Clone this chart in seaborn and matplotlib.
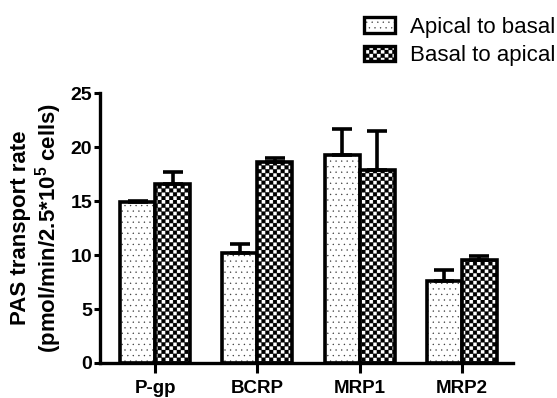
import warnings
import numpy as np
import pandas as pd
import matplotlib
matplotlib.use("Agg")
import matplotlib.pyplot as plt
import matplotlib.hatch as mhatch
from matplotlib.path import Path
from matplotlib.patches import Patch
from matplotlib.colors import to_rgba
import seaborn as sns

warnings.filterwarnings("ignore")

# ----------------------------------------------------------------------
# data
# ----------------------------------------------------------------------
transporters = ["P-gp", "BCRP", "MRP1", "MRP2"]
directions = ["Apical to basal", "Basal to apical"]
apical_to_basal = [14.95, 10.15, 19.25, 7.6]
apical_to_basal_err = [0.1, 0.9, 2.4, 1.0]
basal_to_apical = [16.6, 18.6, 17.9, 9.5]
basal_to_apical_err = [1.1, 0.4, 3.6, 0.4]
y_ticks = [0, 5, 10, 15, 20, 25]


# checkerboard hatch (matplotlib has none), used with hatch="#"
class CheckerHatch(mhatch.HatchPatternBase):
    def __init__(self, hatch, density):
        self.n = 13 if "#" in hatch else 0
        self.num_vertices = self.n * self.n * 2 * 5

    def set_vertices_and_codes(self, vertices, codes):
        s = 1.0 / self.n
        h = s / 2
        sq = np.array([[0, 0], [h, 0], [h, h], [0, h], [0, 0]], dtype=float)
        parts = []
        for i in range(self.n):
            for j in range(self.n):
                parts.append(sq + [i * s, j * s])
                parts.append(sq + [i * s + h, j * s + h])
        vertices[:] = np.concatenate(parts)
        codes[:] = np.tile([Path.MOVETO, Path.LINETO, Path.LINETO,
                            Path.LINETO, Path.CLOSEPOLY], len(parts))


mhatch._hatch_types.append(CheckerHatch)

sns.set_style("ticks")
plt.rcParams["font.family"] = ["Liberation Sans", "DejaVu Sans"]
plt.rcParams["mathtext.fontset"] = "custom"
plt.rcParams["mathtext.bf"] = "Liberation Sans:bold"
plt.rcParams["mathtext.rm"] = "Liberation Sans"
plt.rcParams["hatch.linewidth"] = 0.2
plt.rcParams["text.color"] = "black"
plt.rcParams["xtick.color"] = "black"
plt.rcParams["ytick.color"] = "black"
plt.rcParams["axes.labelcolor"] = "black"
plt.rcParams["axes.edgecolor"] = "black"

df = pd.DataFrame({
    "transporter": transporters * 2,
    "direction": [directions[0]] * 4 + [directions[1]] * 4,
    "rate": apical_to_basal + basal_to_apical,
})

fig = plt.figure(figsize=(5.57, 3.98), dpi=100)
ax = fig.add_axes([0.1795, 0.088, 0.7415, 0.678])

sns.barplot(data=df, x="transporter", y="rate", hue="direction",
            hue_order=directions, palette=["white", "white"], saturation=1,
            width=0.685, edgecolor="black", linewidth=2.6, errorbar=None,
            legend=False, ax=ax)

hatches = ["...", "#"]
hatch_colors = ["#333333", "black"]
errors = [apical_to_basal_err, basal_to_apical_err]
for container, hatch, hcol, err in zip(ax.containers, hatches, hatch_colors, errors):
    xs, ys = [], []
    for bar in container:
        bar.set_hatch(hatch)
        bar._hatch_color = to_rgba(hcol)
        xs.append(bar.get_x() + bar.get_width() / 2)
        ys.append(bar.get_height())
    ax.errorbar(xs, ys, yerr=[np.zeros(len(err)), err], fmt="none",
                ecolor="black", elinewidth=2.6, capsize=7, capthick=2.6)

ax.set_ylim(0, 25)
ax.set_xlim(-0.54, 3.5)
ax.set_yticks(y_ticks)
ax.set_xlabel("")
ax.set_ylabel("PAS transport rate\n(pmol/min/2.5*10$^\\mathbf{5}$ cells)",
              fontsize=16, fontweight="bold", labelpad=5, linespacing=1.1)
sns.despine(ax=ax)
for side in ["left", "bottom"]:
    ax.spines[side].set_linewidth(2.4)
ax.tick_params(axis="y", length=4, width=2.2, labelsize=14, pad=1.5)
ax.tick_params(axis="x", length=7, width=2.2, labelsize=13.5, pad=5)
for lab in ax.get_xticklabels() + ax.get_yticklabels():
    lab.set_fontweight("bold")

handles = []
for hatch, hcol in zip(hatches, hatch_colors):
    p = Patch(facecolor="white", edgecolor="black", hatch=hatch, linewidth=2.4)
    p._hatch_color = to_rgba(hcol)
    handles.append(p)
leg = fig.legend(handles, directions, loc="upper left",
                 bbox_to_anchor=(364 / 557, 1 - 17 / 398), frameon=False,
                 fontsize=16, handlelength=1.4, handleheight=0.72,
                 handletextpad=0.68, labelspacing=0.33, borderpad=0,
                 borderaxespad=0)
for h, hcol in zip(leg.legend_handles, hatch_colors):
    h._hatch_color = to_rgba(hcol)

fig.savefig("out.png", dpi=100)
